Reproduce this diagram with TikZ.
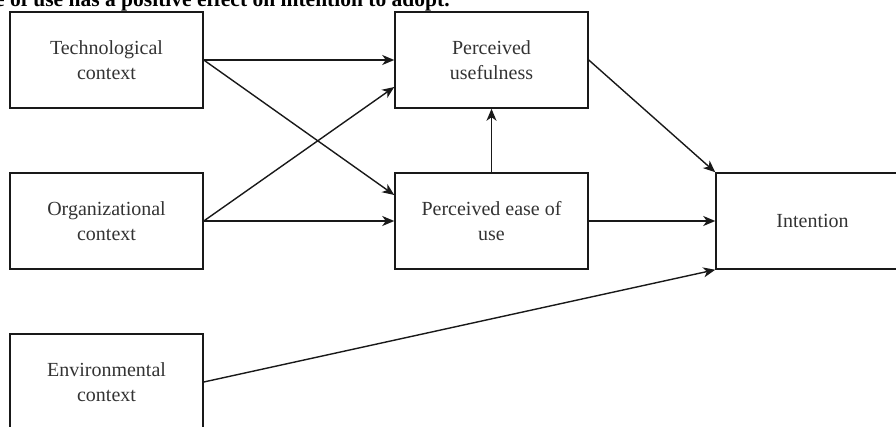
\documentclass[tikz,border=0pt]{standalone}
\usepackage{fontspec}
\setmainfont{Liberation Serif}
\usetikzlibrary{arrows.meta}
\begin{document}
\begin{tikzpicture}[x=1pt,y=-1pt,
  box/.style={draw=black!90,line width=1.5pt,rectangle,minimum width=193pt,minimum height=96pt,
    inner sep=0pt,align=center,font=\fontsize{20}{24.5}\selectfont,text=black!80},
  conn/.style={draw=black!90,line width=1.4pt,-{Stealth[length=12pt,width=10pt,inset=3.5pt]}}]
\useasboundingbox (0,0) rectangle (896,426);
\clip (0,0) rectangle (896,426);
\node[anchor=base west,inner sep=0pt] (hdr) at (-5,6) {\bfseries\fontsize{21.5}{24}\selectfont e of use has a positive effect on intention to adopt.};
\node[box] (tech) at (106.5,60) {Technological\\context};
\node[box] (org) at (106.5,221) {Organizational\\context};
\node[box] (env) at (106.5,382) {Environmental\\context};
\node[box] (pu) at (491.5,60) {Perceived\\usefulness};
\node[box] (peou) at (491.5,221) {Perceived ease of\\use};
\node[box] (int) at (812.5,221) {Intention};
\draw[conn] (tech.east) -- (pu.west);
\draw[conn] (tech.east) -- ([yshift=26pt]peou.west);
\draw[conn] (org.east) -- ([yshift=-27pt]pu.west);
\draw[conn] (org.east) -- (peou.west);
\draw[conn] (peou.north) -- (pu.south);
\draw[conn] (pu.east) -- (int.north west);
\draw[conn] (peou.east) -- (int.west);
\draw[conn] (env.east) -- (int.south west);
\end{tikzpicture}
\end{document}
